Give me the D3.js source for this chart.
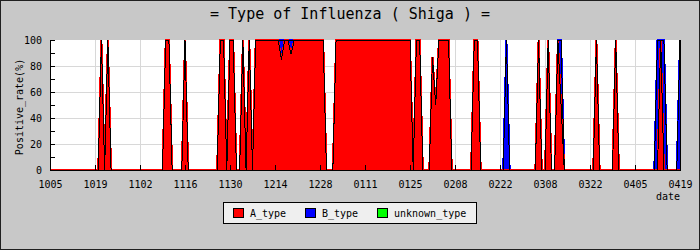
<!DOCTYPE html>
<html><head><meta charset="utf-8">
<script src="https://cdn.jsdelivr.net/npm/d3@7/dist/d3.min.js"></script>
<style>body{margin:0;background:#c8c8c8}svg{display:block}</style>
</head><body><svg id="c" width="700" height="250"></svg>
<script>
const title = "= Type of Influenza ( Shiga ) =";
const yLabel = "Positive_rate(%)";
const xLabel = "date";
const tickLabels = ["1005","1019","1102","1116","1130","1214","1228","0111","0125","0208","0222","0308","0322","0405","0419"];
const seriesNames = ["A_type","B_type","unknown_type"];
const seriesColors = ["#ff0000","#0000ff","#00ff00"];

// daily values, 2 weeks per line, from 10/05 to 04/19
const aType = [
 0,0,0,0,0,0,0,0,0,0,0,0,0,0,
 0,0,100,0,100,0,0,0,0,0,0,0,0,0,
 0,0,0,0,0,0,0,0,100,100,0,0,0,0,
 100,0,0,0,0,0,0,0,0,0,0,100,100,0,
 100,100,0,0,100,0,100,0,100,100,100,100,100,100,
 100,100,85,100,100,89,100,100,100,100,100,100,100,100,
 100,100,0,0,0,100,100,100,100,100,100,100,100,100,
 100,100,100,100,100,100,100,100,100,100,100,100,100,100,
 100,0,100,100,0,0,0,87,50,100,100,100,100,0,
 0,0,0,0,0,0,100,100,0,0,0,0,0,0,
 0,0,0,0,0,0,0,0,0,0,0,0,100,0,
 0,100,0,0,100,50,0,0,0,0,0,0,0,0,
 0,0,100,0,0,0,0,0,100,0,0,0,0,0,
 0,0,0,0,0,0,0,0,100,0,0,0,0,0,
 0
];
const bType = [
 0,0,0,0,0,0,0,0,0,0,0,0,0,0,
 0,0,0,0,0,0,0,0,0,0,0,0,0,0,
 0,0,0,0,0,0,0,0,0,0,0,0,0,0,
 0,0,0,0,0,0,0,0,0,0,0,0,0,0,
 0,0,0,0,0,0,0,0,0,0,0,0,0,0,
 0,0,15,0,0,11,0,0,0,0,0,0,0,0,
 0,0,0,0,0,0,0,0,0,0,0,0,0,0,
 0,0,0,0,0,0,0,0,0,0,0,0,0,0,
 0,0,0,0,0,0,0,0,0,0,0,0,0,0,
 0,0,0,0,0,0,0,0,0,0,0,0,0,0,
 0,0,100,0,0,0,0,0,0,0,0,0,0,0,
 0,0,0,0,0,50,0,0,0,0,0,0,0,0,
 0,0,0,0,0,0,0,0,0,0,0,0,0,0,
 0,0,0,0,0,0,0,100,0,100,0,0,0,0,
 100
];
const unknownType = [
 0,0,0,0,0,0,0,0,0,0,0,0,0,0,
 0,0,0,0,0,0,0,0,0,0,0,0,0,0,
 0,0,0,0,0,0,0,0,0,0,0,0,0,0,
 0,0,0,0,0,0,0,0,0,0,0,0,0,0,
 0,0,0,0,0,0,0,0,0,0,0,0,0,0,
 0,0,0,0,0,0,0,0,0,0,0,0,0,0,
 0,0,0,0,0,0,0,0,0,0,0,0,0,0,
 0,0,0,0,0,0,0,0,0,0,0,0,0,0,
 0,0,0,0,0,0,0,0,0,0,0,0,0,0,
 0,0,0,0,0,0,0,0,0,0,0,0,0,0,
 0,0,0,0,0,0,0,0,0,0,0,0,0,0,
 0,0,0,0,0,0,0,0,0,0,0,0,0,0,
 0,0,0,0,0,0,0,0,0,0,0,0,0,0,
 0,0,0,0,0,0,0,0,0,0,0,0,0,0,
 0
];
const yTicks = [0,10,20,30,40,50,60,70,80,90,100];

const svg = d3.select("#c");
const W = 700, H = 250;
const L = 50, R = 680, T = 40, B = 170;
const font = "'DejaVu Sans Mono', monospace";

svg.append("rect").attr("x",0.5).attr("y",0.5).attr("width",W-1).attr("height",H-1)
  .attr("fill","#c8c8c8").attr("stroke","#202020");

const nDays = aType.length;
const x = d3.scaleLinear().domain([0, nDays-1]).range([L, R]);
const y = d3.scaleLinear().domain([0, 100]).range([B, T]);
const tickDays = tickLabels.map((_, i) => i * 14);

// plot background
svg.append("rect").attr("x",L).attr("y",T).attr("width",R-L).attr("height",B-T).attr("fill","#ffffff");

// grid
const g = svg.append("g").attr("shape-rendering","crispEdges");
g.selectAll(".hg").data([20,40,60,80]).join("line")
  .attr("x1",L).attr("x2",R).attr("y1",d=>y(d)).attr("y2",d=>y(d))
  .attr("stroke","#d8d8d8").attr("stroke-width",1);
g.selectAll(".vg").data(tickDays.slice(1)).join("line")
  .attr("x1",d=>x(d)).attr("x2",d=>x(d)).attr("y1",T).attr("y2",B)
  .attr("stroke","#d8d8d8").attr("stroke-width",1);

// stacked areas: widened fills (top layer first, so lower layers keep their edges), then thin crisp outlines
const rows = aType.map((a, i) => ({i, A_type:a, B_type:bType[i], unknown_type:unknownType[i]}));
const stack = d3.stack().keys(seriesNames)(rows);
const area = d3.area().x(d => x(d.data.i)).y0(d => y(d[0])).y1(d => y(d[1]));
const ag = svg.append("g");
const hasData = s => s.some(d => d[1] - d[0] > 0);
ag.selectAll("path.fill").data(stack.slice().reverse().filter(hasData)).join("path").attr("class","fill")
  .attr("d", area)
  .attr("fill", d => seriesColors[d.index])
  .attr("stroke", d => seriesColors[d.index]).attr("stroke-width", 2)
  .attr("shape-rendering","crispEdges");
ag.selectAll("path.edge").data(stack.filter(hasData)).join("path").attr("class","edge")
  .attr("d", area)
  .attr("fill", "none")
  .attr("stroke", "#000").attr("stroke-width", 1)
  .attr("shape-rendering","crispEdges");

// axes
const yAxis = d3.axisLeft(y).tickValues(yTicks).tickSizeInner(-5).tickSizeOuter(0).tickPadding(8)
  .tickFormat(d => d % 20 === 0 ? d : "");
const ya = svg.append("g").attr("transform",`translate(${L},0)`).call(yAxis);
const xAxis = d3.axisBottom(x).tickValues(tickDays).tickSizeInner(-5).tickSizeOuter(0).tickPadding(11)
  .tickFormat((d, i) => tickLabels[i]);
const xa = svg.append("g").attr("transform",`translate(0,${B})`).call(xAxis);
[ya, xa].forEach(a => {
  a.attr("shape-rendering","crispEdges");
  a.selectAll("path,line").attr("stroke","#000");
  a.selectAll("text").attr("font-family",font).attr("font-size",10).attr("fill","#000");
});

// titles
svg.append("text").attr("x",350).attr("y",19).attr("text-anchor","middle")
  .attr("font-family",font).attr("font-size",15).attr("fill","#000").text(title);
svg.append("text").attr("transform","translate(23,107) rotate(-90)").attr("text-anchor","middle")
  .attr("font-family",font).attr("font-size",10).attr("fill","#000").text(yLabel);
svg.append("text").attr("x",680).attr("y",200).attr("text-anchor","end")
  .attr("font-family",font).attr("font-size",10).attr("fill","#000").text(xLabel);

// legend
const lg = svg.append("g");
lg.append("rect").attr("x",223.5).attr("y",202.5).attr("width",253).attr("height",21)
  .attr("fill","#efefef").attr("stroke","#000");
const itemX = [233.5, 305.5, 377.5];
seriesNames.forEach((name, k) => {
  lg.append("rect").attr("x",itemX[k]).attr("y",208.5).attr("width",10).attr("height",9)
    .attr("fill",seriesColors[k]).attr("stroke","#000");
  lg.append("text").attr("x",itemX[k]+16.5).attr("y",217)
    .attr("font-family",font).attr("font-size",10).attr("fill","#000").text(name);
});
</script></body></html>
